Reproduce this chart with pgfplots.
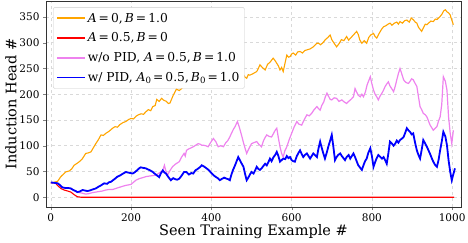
\documentclass[border=0pt]{standalone}
\usepackage{pgfplots}
\pgfplotsset{compat=1.18}
\usepackage{fontspec}
\setmainfont{DejaVu Serif}
\definecolor{morange}{HTML}{FFA500}
\definecolor{mviolet}{HTML}{EE82EE}
\definecolor{mblue}{HTML}{0000FF}
\definecolor{mred}{HTML}{FF0000}
\newcommand{\sub}[1]{{\fontsize{8.6}{9}\selectfont\raisebox{-0.4ex}{#1}}}
\begin{document}
\begin{tikzpicture}
\begin{axis}[name=ax,
  scale only axis, width=415pt, height=206pt,
  xmin=-12, xmax=1022, ymin=-19, ymax=381,
  xtick={0,200,400,600,800,1000},
  ytick={0,50,100,150,200,250,300,350},
  /pgf/number format/assume math mode=true,
  /pgf/number format/1000 sep={},
  tick label style={font=\fontsize{10.5}{12}\selectfont},
  label style={font=\fontsize{14.5}{16}\selectfont},
  xlabel={Seen Training Example \#},
  ylabel={Induction Head \#},
  xlabel style={yshift=4pt},
  ylabel style={yshift=-4pt},
  tick align=outside, tick pos=left,
  major tick length=3pt,
  axis line style={black!80, line width=0.8pt},
  grid=major,
  grid style={dashed, gray!30, line width=0.5pt},
  legend cell align=left,
  legend style={at={(0.017,0.97)}, anchor=north west, draw=black!20, rounded corners=2pt,
    fill=white, font=\fontsize{12.3}{14}\selectfont,
    row sep=5.2pt, inner xsep=3pt, inner ysep=3.5pt},
]
\addlegendimage{legend image code/.code={\draw[morange, line width=1.5pt, sharp corners] (0pt,0pt) -- (28pt,0pt);}}
\addlegendentry{\textit{A}\,=\,0,\,\textit{B}\,=\,1.0}
\addlegendimage{legend image code/.code={\draw[mred, line width=1.5pt, sharp corners] (0pt,0pt) -- (28pt,0pt);}}
\addlegendentry{\textit{A}\,=\,0.5,\,\textit{B}\,=\,0}
\addlegendimage{legend image code/.code={\draw[mviolet, line width=1.5pt, sharp corners] (0pt,0pt) -- (28pt,0pt);}}
\addlegendentry{w/o PID, \textit{A}\,=\,0.5,\,\textit{B}\,=\,1.0}
\addlegendimage{legend image code/.code={\draw[mblue, line width=1.5pt, sharp corners] (0pt,0pt) -- (28pt,0pt);}}
\addlegendentry{w/ PID, \textit{A}\sub{0}\,=\,0.5,\,\textit{B}\sub{0}\,=\,1.0}
\addplot[forget plot, morange, line width=1.1pt] coordinates {
(0,28) (8,29) (17,31) (25,40) (33,46) (37,49) (46,51) (52,55) (58,62) (64,65) (71,69) (78,74) (87,85) (93,86) (100,88) (106,96) (112,104) (118,111) (125,121) (131,120) (137,124) (145,128) (154,134) (160,137) (166,136) (172,141) (180,145) (187,147) (194,151) (200,153) (206,152) (212,157) (218,160) (225,162) (231,161) (237,166) (243,170) (249,168) (254,176) (260,178) (264,190) (270,186) (276,192) (280,189) (288,186) (293,182) (297,183) (305,198) (313,210) (320,207) (330,214) (338,224) (345,220) (352,226) (358,228) (365,232) (372,234) (380,232) (388,238) (396,240) (405,242) (413,244) (420,248) (428,251) (436,254) (446,258) (455,262) (463,265) (470,252) (478,240) (484,233) (488,231) (492,238) (496,237) (504,240) (513,244) (517,250) (521,257) (527,252) (534,247) (540,258) (546,262) (554,270) (558,266) (563,260) (567,255) (571,247) (575,252) (579,244) (584,262) (588,276) (592,272) (596,273) (600,278) (604,280) (610,276) (615,282) (621,283) (627,280) (633,285) (638,286) (646,288) (650,290) (654,292) (663,299) (667,299) (672,296) (678,300) (684,306) (690,310) (696,315) (700,306) (705,300) (712,292) (718,298) (724,306) (730,304) (737,312) (742,305) (748,310) (755,316) (762,322) (766,316) (770,305) (775,299) (781,304) (787,299) (792,310) (797,315) (804,318) (808,312) (812,309) (818,318) (824,326) (829,331) (835,333) (840,336) (845,338) (850,334) (856,338) (862,340) (866,336) (870,341) (876,338) (882,343) (887,344) (893,340) (898,348) (904,344) (908,340) (912,338) (916,330) (920,326) (924,322) (929,330) (933,336) (937,335) (941,338) (947,342) (953,341) (958,346) (962,345) (966,348) (970,351) (975,356) (979,362) (983,364) (987,360) (991,358) (995,354) (999,344) (1003,335)
};
\addplot[forget plot, mred, line width=1.1pt] coordinates {
(0,28) (8,28) (12,27) (18,22) (25,17) (33,14) (42,12) (50,10) (58,5) (66,1) (75,0) (1005,0)
};
\addplot[forget plot, mviolet, line width=1.2pt] coordinates {
(0,28.6) (8,28) (17,27) (22,24) (29,19) (36,18) (43,18) (50,17) (56,14) (62,11) (70,9) (78,8) (87,6) (95,7) (104,9) (112,10) (120,11) (128,12) (137,14) (145,15) (154,15) (162,17) (170,19) (178,21) (187,23) (194,24) (200,25) (206,29) (212,33) (220,36) (229,38) (237,40) (245,41) (254,42) (262,43) (270,47) (279,52) (283,62) (287,50) (291,43) (297,52) (303,59) (310,64) (320,69) (326,78) (332,85) (335,80) (338,91) (344,94) (350,96) (355,98) (361,101) (367,104) (372,103) (376,101) (380,101) (386,100) (392,98) (398,106) (405,114) (411,108) (417,98) (423,100) (430,98) (436,106) (441,110) (446,117) (450,124) (455,132) (459,137) (465,147) (470,135) (475,121) (480,106) (484,95) (488,85) (492,92) (496,98) (500,104) (506,106) (513,108) (518,103) (525,98) (530,110) (534,116) (538,121) (544,118) (550,117) (555,124) (559,130) (563,134) (567,115) (571,98) (575,85) (579,78) (583,90) (588,98) (594,112) (600,124) (606,136) (613,147) (618,142) (625,140) (631,150) (638,160) (644,158) (650,163) (656,170) (663,176) (667,172) (671,169) (675,178) (680,185) (684,195) (688,202) (692,196) (696,190) (700,189) (706,193) (712,192) (718,186) (725,189) (731,185) (737,182) (742,186) (748,190) (754,195) (758,211) (762,204) (766,198) (771,195) (775,200) (779,195) (784,205) (788,218) (792,226) (796,234) (800,220) (804,208) (808,200) (812,195) (816,189) (820,196) (825,202) (829,208) (833,215) (837,220) (841,224) (845,216) (850,210) (854,205) (858,215) (862,228) (866,240) (870,250) (875,238) (879,228) (883,224) (887,222) (891,221) (895,225) (899,230) (903,228) (907,222) (912,215) (916,195) (920,176) (924,170) (928,163) (933,160) (937,156) (941,148) (945,140) (949,135) (953,130) (958,134) (962,137) (966,148) (970,156) (974,180) (978,234) (983,225) (987,208) (991,156) (995,125) (999,104) (1003,130)
};
\addplot[forget plot, mblue, line width=1.8pt] coordinates {
(0,28.6) (8,28) (17,27) (22,24) (29,19) (36,18) (43,18) (50,17) (56,14) (62,12) (66,10) (72,11) (79,14) (85,13) (91,12) (97,13) (104,15) (112,17) (118,20) (125,23) (133,27) (140,26) (145,29) (150,30) (155,33) (160,36) (166,40) (172,42) (178,45) (187,49) (192,48) (198,47) (204,46) (210,49) (216,53) (220,56) (224,58) (230,57) (237,56) (242,54) (248,52) (254,49) (260,45) (265,42) (270,39) (274,46) (279,52) (283,48) (287,46) (292,40) (296,36) (299,33) (305,37) (310,35) (315,34) (320,36) (326,42) (332,49) (338,49) (344,44) (350,47) (355,46) (360,52) (366,55) (371,58) (376,62) (381,60) (388,56) (393,53) (399,48) (405,43) (410,40) (416,37) (421,33) (427,36) (432,38) (438,36) (442,35) (446,33) (450,44) (454,53) (458,60) (462,68) (467,78) (471,72) (475,66) (480,59) (484,45) (488,33) (492,38) (496,44) (500,49) (505,46) (509,52) (513,59) (517,55) (521,53) (525,56) (530,61) (534,65) (538,62) (542,68) (546,75) (550,70) (555,78) (559,82) (563,88) (567,80) (571,69) (575,72) (579,75) (584,74) (588,80) (592,76) (596,78) (600,72) (604,70) (608,69) (613,80) (617,86) (621,91) (625,84) (629,78) (633,82) (638,85) (642,80) (646,75) (650,80) (654,85) (658,82) (663,78) (667,95) (671,108) (675,96) (679,85) (683,75) (688,88) (692,100) (696,110) (700,121) (704,98) (708,72) (712,78) (716,82) (721,85) (725,80) (729,76) (733,72) (737,78) (742,82) (746,75) (750,80) (754,85) (758,78) (762,70) (766,62) (770,58) (775,53) (779,62) (783,70) (787,75) (791,86) (796,95) (800,80) (804,59) (808,68) (812,76) (816,82) (820,79) (825,75) (829,78) (833,72) (837,65) (841,85) (845,108) (850,104) (854,100) (858,104) (862,110) (866,106) (870,111) (875,114) (879,117) (883,125) (887,134) (891,130) (895,127) (899,122) (903,124) (907,108) (912,91) (916,82) (920,75) (924,92) (928,111) (933,104) (937,98) (941,91) (945,84) (949,76) (953,69) (958,62) (962,59) (966,72) (970,91) (974,108) (978,127) (983,118) (987,101) (991,72) (995,50) (999,33) (1003,45) (1007,56)
};
\end{axis}
\pgfresetboundingbox
\path[use as bounding box] ([xshift=-46pt,yshift=-35pt]ax.south west) rectangle ([xshift=7pt,yshift=1pt]ax.north east);
\end{tikzpicture}
\end{document}
